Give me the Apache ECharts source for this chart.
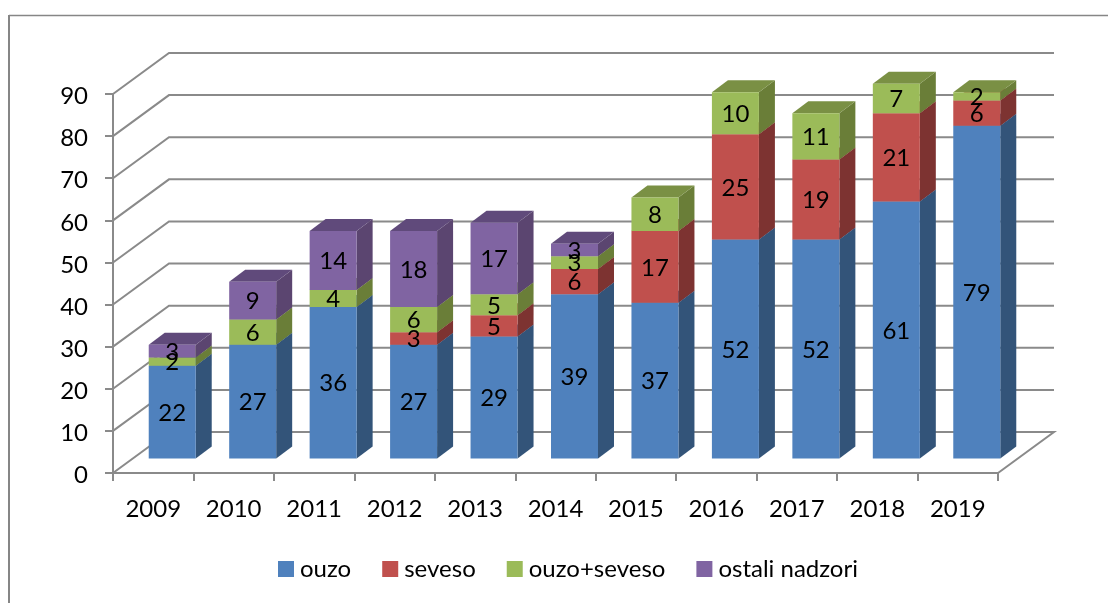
<!DOCTYPE html>
<html>
<head>
<meta charset="utf-8">
<style>
html, body { margin: 0; padding: 0; background: #fff; }
#chart { width: 1108px; height: 603px; }
</style>
<script src="https://cdn.jsdelivr.net/npm/echarts@6/dist/echarts.min.js"></script>
</head>
<body>
<div id="chart"></div>
<script>
const years = ['2009', '2010', '2011', '2012', '2013', '2014', '2015', '2016', '2017', '2018', '2019'];
const ouzo = [22, 27, 36, 27, 29, 39, 37, 52, 52, 61, 79];
const seveso = [0, 0, 0, 3, 5, 6, 17, 25, 19, 21, 6];
const ouzoSeveso = [2, 6, 4, 6, 5, 3, 8, 10, 11, 7, 2];
const ostali = [3, 9, 14, 18, 17, 3, 0, 0, 0, 0, 0];
const yTicks = [0, 10, 20, 30, 40, 50, 60, 70, 80, 90];

const FONT = 'Lato';
const FONT_SIZE = 24;
const GRID_COLOR = '#8a8a8a';

// fake 3d: back wall offset, bar plane offset, bar depth
const WALL_DX = 56, WALL_DY = 41;
const BAR_DX = 19, BAR_DY = 14.5;
const DEPTH_DX = 16, DEPTH_DY = 12;
const BAR_WIDTH = 47;

const chart = echarts.init(document.getElementById('chart'));

const renderWall = (params, api) => {
    const area = params.coordSys;
    const y = api.coord([0, api.value(0)])[1];
    const style = {stroke: GRID_COLOR, lineWidth: 2, fill: null};
    const points = [
        [area.x, y],
        [area.x + WALL_DX, y - WALL_DY],
        [area.x + area.width + WALL_DX, y - WALL_DY]
    ];
    if (api.value(0) === 0) {
        points.push([area.x + area.width, y]);
    }
    return {type: 'polyline', shape: {points}, style};
};

const renderBar = (colors) => (params, api) => {
    const value = api.value(2) - api.value(1);
    if (!value) {
        return null;
    }
    const bottom = api.coord([api.value(0), api.value(1)]);
    const top = api.coord([api.value(0), api.value(2)]);
    const x0 = bottom[0] + BAR_DX - BAR_WIDTH / 2;
    const x1 = x0 + BAR_WIDTH;
    const y0 = bottom[1] - BAR_DY;
    const y1 = top[1] - BAR_DY;
    return {
        type: 'group',
        children: [
            {
                type: 'polygon',
                shape: {points: [[x1, y0], [x1 + DEPTH_DX, y0 - DEPTH_DY], [x1 + DEPTH_DX, y1 - DEPTH_DY], [x1, y1]]},
                style: {fill: colors.side}
            },
            {
                type: 'polygon',
                shape: {points: [[x0, y1], [x1, y1], [x1 + DEPTH_DX, y1 - DEPTH_DY], [x0 + DEPTH_DX, y1 - DEPTH_DY]]},
                style: {fill: colors.top}
            },
            {
                type: 'rect',
                shape: {x: x0, y: y1, width: BAR_WIDTH, height: y0 - y1},
                style: {fill: colors.front}
            }
        ]
    };
};

// labels go in their own series so later segments never cover them
const renderLabel = (params, api) => {
    const value = api.value(2) - api.value(1);
    if (!value) {
        return null;
    }
    const p = api.coord([api.value(0), (api.value(1) + api.value(2)) / 2]);
    return {
        type: 'text',
        style: {
            x: p[0] + BAR_DX,
            y: p[1] - BAR_DY + 1,
            text: String(value),
            font: `${FONT_SIZE}px ${FONT}`,
            fill: '#000',
            align: 'center',
            verticalAlign: 'middle'
        }
    };
};

const layers = [
    {name: 'ouzo', values: ouzo, colors: {front: '#4f81bd', side: '#335479', top: '#3b6291'}},
    {name: 'seveso', values: seveso, colors: {front: '#c0504d', side: '#7d3331', top: '#953e3b'}},
    {name: 'ouzo+seveso', values: ouzoSeveso, colors: {front: '#9bbb59', side: '#6a7e38', top: '#7a9044'}},
    {name: 'ostali nadzori', values: ostali, colors: {front: '#8064a2', side: '#5b4570', top: '#604a7b'}}
];

const running = years.map(() => 0);
const barSeries = [];
const labelData = [];
layers.forEach(layer => {
    const data = layer.values.map((v, i) => {
        const row = [i, running[i], running[i] + v];
        running[i] += v;
        return row;
    });
    labelData.push(...data);
    barSeries.push({
        name: layer.name,
        type: 'custom',
        renderItem: renderBar(layer.colors),
        itemStyle: {color: layer.colors.front},
        encode: {x: 0, y: [1, 2]},
        data,
        z: 3,
        silent: true
    });
});

const option = {
    animation: false,
    backgroundColor: '#fff',
    textStyle: {fontFamily: FONT},
    grid: {left: 113, right: 110, top: 94, bottom: 130, containLabel: false},
    graphic: [
        {type: 'line', silent: true, shape: {x1: 9, y1: 15, x2: 9, y2: 603}, style: {stroke: '#868686', lineWidth: 2}},
        {type: 'line', silent: true, shape: {x1: 9, y1: 15.5, x2: 1108, y2: 15.5}, style: {stroke: '#868686', lineWidth: 1.5}}
    ],
    legend: {
        data: layers.map(l => l.name),
        left: 273,
        top: 552,
        icon: 'rect',
        itemWidth: 16,
        itemHeight: 16,
        itemGap: 31,
        selectedMode: false,
        textStyle: {fontFamily: FONT, fontSize: FONT_SIZE, color: '#000', padding: [1, 0, 0, 1]}
    },
    xAxis: {
        type: 'category',
        data: years,
        boundaryGap: true,
        axisLine: {lineStyle: {color: GRID_COLOR, width: 2}},
        axisTick: {show: true, length: 8, lineStyle: {color: GRID_COLOR, width: 2}},
        axisLabel: {color: '#000', fontFamily: FONT, fontSize: FONT_SIZE, margin: 24, interval: 0},
        splitLine: {show: false}
    },
    yAxis: {
        type: 'value',
        min: 0,
        max: 90,
        interval: 10,
        axisLine: {show: true, lineStyle: {color: GRID_COLOR, width: 2}},
        axisTick: {show: true, length: 8, lineStyle: {color: GRID_COLOR, width: 2}},
        axisLabel: {color: '#000', fontFamily: FONT, fontSize: FONT_SIZE, margin: 25, verticalAlign: 'top', lineHeight: 5},
        splitLine: {show: false}
    },
    series: [
        {
            name: 'wall',
            type: 'custom',
            renderItem: renderWall,
            encode: {y: 0},
            data: yTicks.map(v => [v]),
            z: 1,
            silent: true
        },
        ...barSeries,
        {
            name: 'labels',
            type: 'custom',
            renderItem: renderLabel,
            encode: {x: 0, y: [1, 2]},
            data: labelData,
            z: 5,
            silent: true
        }
    ]
};
chart.setOption(option);
</script>
</body>
</html>
